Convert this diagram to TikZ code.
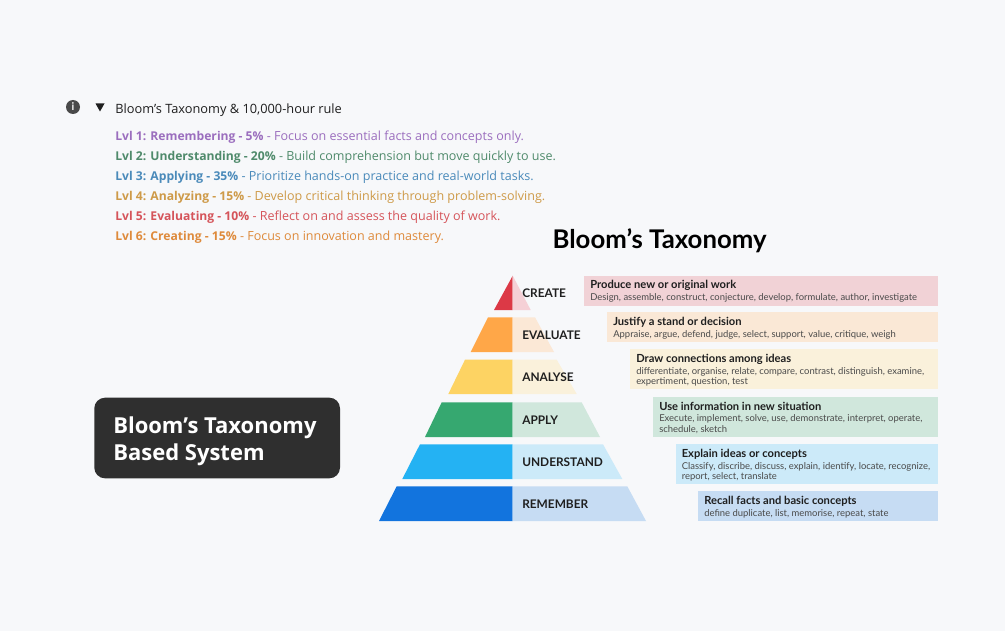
\documentclass[tikz,border=0pt]{standalone}
\usepackage{fontspec}
\setmainfont{Lato}
\newfontfamily\listfont{Open Sans}
\definecolor{pagebg}{HTML}{F7F8FA}
\definecolor{darkbox}{HTML}{2F2F2F}
\definecolor{inktext}{HTML}{1F1F1F}
\definecolor{subtext}{HTML}{4A4A4A}
\definecolor{lvlone}{HTML}{9B6EBE}
\definecolor{lvltwo}{HTML}{4F8A6B}
\definecolor{lvlthree}{HTML}{4A8ABA}
\definecolor{lvlfour}{HTML}{CE9A48}
\definecolor{lvlfive}{HTML}{D5545A}
\definecolor{lvlsix}{HTML}{DE8A3B}
\newcommand{\lvlb}[1]{{\bfseries\fontsize{9.1}{11}\selectfont #1}}
\tikzset{
  lvltext/.style={anchor=west,inner sep=0pt,font=\listfont\fontsize{9.4}{11}\selectfont},
  steplabel/.style={anchor=west,inner sep=0pt,text=inktext,font=\bfseries\fontsize{8.9}{10}\selectfont},
  boxtitle/.style={anchor=west,inner sep=0pt,text=inktext,font=\bfseries\fontsize{8.37}{10}\selectfont},
  boxtext/.style={anchor=north west,inner sep=0pt,text=subtext,align=left,font=\fontsize{7.09}{8}\selectfont},
}
\begin{document}
\begin{tikzpicture}[x=0.75pt,y=0.75pt,yscale=-1,xscale=1]
        \useasboundingbox (0,0) rectangle (1005,631);
        %Shape: Page
        \fill [pagebg] (0,0) rectangle (1005,631);

        %Shape: Info icon
        \node (infoicon) at (73,107) [circle,fill=subtext,text=white,inner sep=0pt,minimum size=10.5pt,font=\bfseries\fontsize{8}{8}\selectfont] {i};
        %Shape: Triangle
        \fill [inktext] (95.5,103.5) -- (104.5,103.5) -- (100,111.5) -- cycle;

        % Text Node
        \node (listhead) at (115,110.5) [lvltext,text=inktext,font=\listfont\fontsize{9.6}{11}\selectfont] {Bloom’s Taxonomy \& 10,000-hour rule};
        % Text Node
        \node (lvlrem) at (115,137.5) [lvltext,text=lvlone] {\lvlb{Lvl 1: Remembering - 5\%} - Focus on essential facts and concepts only.};
        % Text Node
        \node (lvlund) at (115,157.5) [lvltext,text=lvltwo] {\lvlb{Lvl 2: Understanding - 20\%} - Build comprehension but move quickly to use.};
        % Text Node
        \node (lvlapp) at (115,177.5) [lvltext,text=lvlthree] {\lvlb{Lvl 3: Applying - 35\%} - Prioritize hands-on practice and real-world tasks.};
        % Text Node
        \node (lvlana) at (115,197.5) [lvltext,text=lvlfour] {\lvlb{Lvl 4: Analyzing - 15\%} - Develop critical thinking through problem-solving.};
        % Text Node
        \node (lvleva) at (115,217.5) [lvltext,text=lvlfive] {\lvlb{Lvl 5: Evaluating - 10\%} - Reflect on and assess the quality of work.};
        % Text Node
        \node (lvlcre) at (115,237.5) [lvltext,text=lvlsix] {\lvlb{Lvl 6: Creating - 15\%} - Focus on innovation and mastery.};

        %Shape: Dark box
        \fill [darkbox,rounded corners=8pt] (94.3,397.7) rectangle (340,478.3);
        % Text Node
        \node (systemlabel) at (113,441) [anchor=west,inner sep=0pt,text=white,align=left,font=\listfont\fontsize{16.5}{20.25}\selectfont\bfseries] {Bloom’s Taxonomy\\Based System};

        % Text Node
        \node (charttitle) at (659.5,240.5) [inner sep=0pt,text=black,font=\bfseries\fontsize{19.3}{23}\selectfont] {Bloom’s Taxonomy};

        %Shape: Pyramid left
        \fill [fill={rgb, 255:red, 220; green, 57; blue, 70 }] (512.7,275.7) -- (512.7,310) -- (494,310) -- cycle;
        \fill [fill={rgb, 255:red, 255; green, 167; blue, 72 }] (488,317.3) -- (512.7,317.3) -- (512.7,352) -- (470.7,352) -- cycle;
        \fill [fill={rgb, 255:red, 253; green, 211; blue, 99 }] (465,359.7) -- (512.7,359.7) -- (512.7,394) -- (448.3,394) -- cycle;
        \fill [fill={rgb, 255:red, 54; green, 168; blue, 112 }] (441.7,402.3) -- (512.7,402.3) -- (512.7,437) -- (425,437) -- cycle;
        \fill [fill={rgb, 255:red, 36; green, 178; blue, 243 }] (420,444.3) -- (512.7,444.3) -- (512.7,479) -- (402.3,479) -- cycle;
        \fill [fill={rgb, 255:red, 18; green, 116; blue, 222 }] (396.7,486.3) -- (512.7,486.3) -- (512.7,521) -- (379,521) -- cycle;
        %Shape: Pyramid right
        \fill [fill={rgb, 255:red, 245; green, 208; blue, 214 }] (512.7,275.7) -- (530.7,310) -- (512.7,310) -- cycle;
        \fill [fill={rgb, 255:red, 251; green, 232; blue, 214 }] (512.7,317.3) -- (535,317.3) -- (554,352) -- (512.7,352) -- cycle;
        \fill [fill={rgb, 255:red, 250; green, 241; blue, 219 }] (512.7,359.7) -- (556.7,359.7) -- (576.7,394) -- (512.7,394) -- cycle;
        \fill [fill={rgb, 255:red, 208; green, 231; blue, 220 }] (512.7,402.3) -- (581.7,402.3) -- (600,437) -- (512.7,437) -- cycle;
        \fill [fill={rgb, 255:red, 204; green, 234; blue, 249 }] (512.7,444.3) -- (603,444.3) -- (622.3,479) -- (512.7,479) -- cycle;
        \fill [fill={rgb, 255:red, 198; green, 220; blue, 243 }] (512.7,486.3) -- (627.3,486.3) -- (646,521) -- (512.7,521) -- cycle;

        % Text Node
        \node (create) at (522,293) [steplabel] {CREATE};
        % Text Node
        \node (evaluate) at (522,335) [steplabel] {EVALUATE};
        % Text Node
        \node (analyse) at (522,377) [steplabel] {ANALYSE};
        % Text Node
        \node (apply) at (522,420) [steplabel] {APPLY};
        % Text Node
        \node (understand) at (522,462) [steplabel] {UNDERSTAND};
        % Text Node
        \node (remember) at (522,504) [steplabel] {REMEMBER};

        %Shape: Description boxes
        \fill [fill={rgb, 255:red, 241; green, 210; blue, 214 }] (584,275.5) rectangle (938,305.5);
        \fill [fill={rgb, 255:red, 250; green, 232; blue, 214 }] (607,312.3) rectangle (938,342);
        \fill [fill={rgb, 255:red, 250; green, 241; blue, 219 }] (630,349) rectangle (938,389.3);
        \fill [fill={rgb, 255:red, 208; green, 231; blue, 220 }] (652.7,396.7) rectangle (938,436.7);
        \fill [fill={rgb, 255:red, 204; green, 234; blue, 249 }] (675.7,444) rectangle (938,484);
        \fill [fill={rgb, 255:red, 198; green, 220; blue, 243 }] (698,491) rectangle (938,521);

        % Text Node
        \node (createhead) at (590,285.5) [boxtitle] {Produce new or original work};
        % Text Node
        \node (createbody) at (590,293.5) [boxtext] {Design, assemble, construct, conjecture, develop, formulate, author, investigate};
        % Text Node
        \node (evaluatehead) at (613,322.5) [boxtitle] {Justify a stand or decision};
        % Text Node
        \node (evaluatebody) at (613,330.5) [boxtext] {Appraise, argue, defend, judge, select, support, value, critique, weigh};
        % Text Node
        \node (analysehead) at (636,359) [boxtitle] {Draw connections among ideas};
        % Text Node
        \node (analysebody) at (636,367) [boxtext] {differentiate, organise, relate, compare, contrast, distinguish, examine,\\expertiment, question, test};
        % Text Node
        \node (applyhead) at (659,406.5) [boxtitle] {Use information in new situation};
        % Text Node
        \node (applybody) at (659,414.5) [boxtext] {Execute, implement, solve, use, demonstrate, interpret, operate,\\schedule, sketch};
        % Text Node
        \node (understandhead) at (681.5,454) [boxtitle] {Explain ideas or concepts};
        % Text Node
        \node (understandbody) at (681.5,462) [boxtext] {Classify, discribe, discuss, explain, identify, locate, recognize,\\report, select, translate};
        % Text Node
        \node (rememberhead) at (704,501) [boxtitle] {Recall facts and basic concepts};
        % Text Node
        \node (rememberbody) at (704,509) [boxtext] {define duplicate, list, memorise, repeat, state};
\end{tikzpicture}
\end{document}
